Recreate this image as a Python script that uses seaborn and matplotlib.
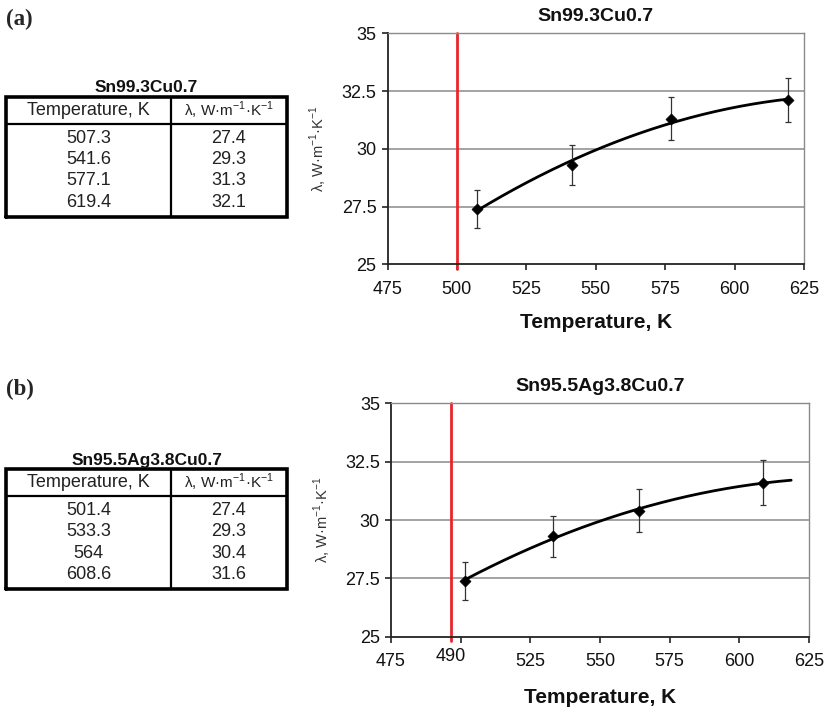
import numpy as np
import pandas as pd
import matplotlib
matplotlib.use("Agg")
import matplotlib.pyplot as plt
import seaborn as sns
from matplotlib.ticker import FuncFormatter

alloy_a = "Sn99.3Cu0.7"
temp_a = [507.3, 541.6, 577.1, 619.4]
lam_a = [27.4, 29.3, 31.3, 32.1]
err_a = [0.82, 0.88, 0.94, 0.96]
melt_a = 500.0
melt_label_a = "500"
trend_end_a = 619.4

alloy_b = "Sn95.5Ag3.8Cu0.7"
temp_b = [501.4, 533.3, 564.0, 608.6]
lam_b = [27.4, 29.3, 30.4, 31.6]
err_b = [0.82, 0.88, 0.91, 0.95]
melt_b = 496.4
melt_label_b = "490"
trend_end_b = 618.6

temp_labels_a = ["507.3", "541.6", "577.1", "619.4"]
temp_labels_b = ["501.4", "533.3", "564", "608.6"]

x_ticks = [475, 500, 525, 550, 575, 600, 625]
y_ticks = [25, 27.5, 30, 32.5, 35]

sns.set_theme(style="white")
plt.rcParams['font.family'] = ['Liberation Sans', 'DejaVu Sans']
plt.rcParams['mathtext.fontset'] = 'custom'
plt.rcParams['mathtext.rm'] = 'Liberation Sans'

W, H = 834, 707
fig = plt.figure(figsize=(W / 100, H / 100), dpi=100)


def px_axes(left, top, right, bottom):
    return fig.add_axes([left / W, 1 - bottom / H, (right - left) / W, (bottom - top) / H])


ylab = r"λ, W·m$^{-1}$·K$^{-1}$"


def draw_chart(ax, alloy, temps, lams, errs, melt, melt_label, trend_end, xlabelpad):
    df = pd.DataFrame({"T": temps, "lam": lams})
    coef = np.polyfit(temps, lams, 2)
    xs = np.linspace(temps[0], trend_end, 200)
    trend = pd.DataFrame({"T": xs, "lam": np.polyval(coef, xs)})

    ax.axvline(melt, ymin=-0.02, ymax=1, color="#e8262a", lw=2, clip_on=False, zorder=2)
    sns.lineplot(data=trend, x="T", y="lam", ax=ax, color="black", lw=2, zorder=3)
    ax.errorbar(temps, lams, yerr=errs, fmt="none", ecolor="#333333", elinewidth=0.9,
                capsize=2.5, capthick=0.9, zorder=4)
    sns.scatterplot(data=df, x="T", y="lam", ax=ax, marker="D", s=32, color="black",
                    edgecolor="black", zorder=5)

    ax.set_xlim(475, 625)
    ax.set_ylim(25, 35)
    ax.set_xticks(x_ticks)
    labels = [str(t) for t in x_ticks]
    if melt_label != "500":
        labels[1] = ""
        ax.set_xticks([melt], labels=[melt_label], minor=True)
    ax.set_xticklabels(labels)
    ax.set_yticks(y_ticks)
    ax.yaxis.set_major_formatter(FuncFormatter(lambda v, p: f"{v:g}"))
    ax.tick_params(axis="both", which="major", direction="out", length=4, width=1.2,
                   color="#222222", labelsize=13, labelcolor="#111111")
    ax.tick_params(axis="x", which="both", pad=8)
    ax.tick_params(axis="x", which="minor", length=0, labelsize=13, labelcolor="#111111")
    ax.tick_params(axis="y", pad=4)
    ax.tick_params(bottom=True, left=True)
    for y in y_ticks[1:-1]:
        ax.axhline(y, color="#8a8a8a", lw=1.1, zorder=1)
    for s in ["top", "right"]:
        ax.spines[s].set_color("#8a8a8a")
        ax.spines[s].set_linewidth(1.0)
    for s in ["left", "bottom"]:
        ax.spines[s].set_color("#222222")
        ax.spines[s].set_linewidth(1.3)
    ax.set_title(alloy, fontsize=14, fontweight="bold", pad=9, color="#111111")
    ax.set_xlabel("Temperature, K", fontsize=15, fontweight="bold", labelpad=xlabelpad,
                  color="#111111")
    ax.set_ylabel(ylab, fontsize=10.5, labelpad=9, color="#333333")


def draw_table(ax, alloy, temp_labels, lams):
    ax.set_xlim(0, 1)
    ax.set_ylim(0, 1)
    ax.axis("off")
    hdr = 0.7725
    div = 0.587
    ax.plot([0, 1, 1, 0, 0], [0, 0, 1, 1, 0], color="black", lw=2.6, clip_on=False,
            solid_joinstyle="miter")
    ax.plot([0, 1], [hdr, hdr], color="black", lw=1.6)
    ax.plot([div, div], [0, 1], color="black", lw=1.6)
    ax.text(div / 2, 0.885, "Temperature, K", ha="center", va="center", fontsize=13,
            color="#222222")
    ax.text((div + 1) / 2, 0.885, ylab, ha="center", va="center", fontsize=11,
            color="#222222")
    for i, (t, l) in enumerate(zip(temp_labels, lams)):
        yc = 0.653 - i * 0.1775
        ax.text(div / 2, yc, t, ha="center", va="center", fontsize=13, color="#222222")
        ax.text((div + 1) / 2, yc, f"{l:.1f}", ha="center", va="center", fontsize=13,
                color="#222222")
    ax.text(0.5, 1.075, alloy, ha="center", va="center", fontsize=12.5, fontweight="bold",
            color="#111111")


ax_a = px_axes(387.5, 33.3, 804, 264.3)
draw_chart(ax_a, alloy_a, temp_a, lam_a, err_a, melt_a, melt_label_a, trend_end_a, 11)
ax_b = px_axes(391, 403.3, 809, 636.7)
draw_chart(ax_b, alloy_b, temp_b, lam_b, err_b, melt_b, melt_label_b, trend_end_b, 13)

tab_a = px_axes(6, 96.7, 287, 216.7)
draw_table(tab_a, alloy_a, temp_labels_a, lam_a)
tab_b = px_axes(6, 469, 287, 589)
draw_table(tab_b, alloy_b, temp_labels_b, lam_b)

fig.text(6 / W, 1 - 19 / H, "(a)", fontsize=16.5, fontweight="bold",
         family=["Liberation Serif", "DejaVu Serif"], va="center", ha="left")
fig.text(6 / W, 1 - 389 / H, "(b)", fontsize=16.5, fontweight="bold",
         family=["Liberation Serif", "DejaVu Serif"], va="center", ha="left")

fig.savefig("out.png", dpi=100)
